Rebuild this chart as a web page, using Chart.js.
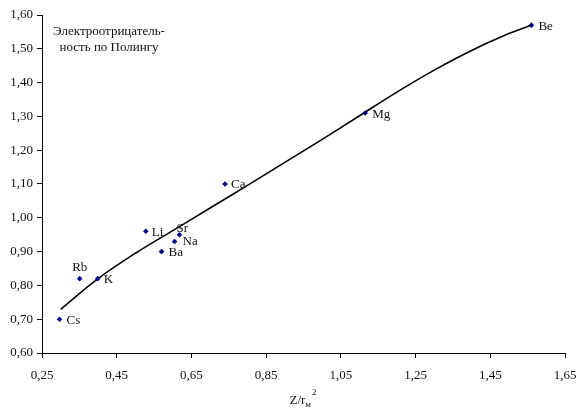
<!DOCTYPE html>
<html>
<head>
<meta charset="utf-8">
<script src="https://cdn.jsdelivr.net/npm/chart.js@4/dist/chart.umd.min.js"></script>
<style>
  html, body { margin: 0; padding: 0; background: #fff; }
  #wrap { width: 577px; height: 412px; position: relative; }
</style>
</head>
<body>
<div id="wrap"><canvas id="c" width="577" height="412"></canvas></div>
<script>
// Elements: Z/r_M^2 against Pauling electronegativity
const elements = ['Be', 'Mg', 'Ca', 'Li', 'Sr', 'Na', 'Ba', 'Rb', 'K', 'Cs'];
const zOverR2 = [1.56, 1.115, 0.74, 0.528, 0.618, 0.605, 0.57, 0.351, 0.399, 0.297];
const pauling = [1.57, 1.31, 1.10, 0.96, 0.95, 0.93, 0.90, 0.82, 0.82, 0.70];

// Trend curve
const trendX = [0.30, 0.40, 0.50, 0.60, 0.70, 0.80, 0.90, 1.00, 1.10, 1.20, 1.30, 1.40, 1.50, 1.56];
const trendY = [0.729, 0.820, 0.895, 0.962, 1.029, 1.096, 1.164, 1.232, 1.302, 1.372, 1.437, 1.495, 1.545, 1.570];

// Axis ticks
const xTicks = [0.25, 0.45, 0.65, 0.85, 1.05, 1.25, 1.45, 1.65];
const yTicks = [0.60, 0.70, 0.80, 0.90, 1.00, 1.10, 1.20, 1.30, 1.40, 1.50, 1.60];

const titleLines = ['Электроотрицатель-', 'ность по Полингу'];

// Label placement around each marker (pixel offsets, alignment)
const labelPlacement = {
  Be: { dx: 7, dy: 1, align: 'left' },
  Mg: { dx: 7, dy: 2, align: 'left' },
  Ca: { dx: 6, dy: 1, align: 'left' },
  Li: { dx: 6, dy: 1, align: 'left' },
  Sr: { dx: -3, dy: -6, align: 'left' },
  Na: { dx: 8, dy: 0, align: 'left' },
  Ba: { dx: 7, dy: 1, align: 'left' },
  Rb: { dx: 0, dy: -11, align: 'center' },
  K:  { dx: 6, dy: 1, align: 'left' },
  Cs: { dx: 7, dy: 1, align: 'left' }
};

const SERIF = '"Liberation Serif", "Times New Roman", serif';
const fmt = v => v.toFixed(2).replace('.', ',');

const annotate = {
  id: 'annotate',
  afterDatasetsDraw(chart) {
    const { ctx, scales: { x, y }, chartArea } = chart;
    ctx.save();
    ctx.fillStyle = '#111';
    ctx.font = '13px ' + SERIF;
    ctx.textBaseline = 'middle';
    elements.forEach((name, i) => {
      const p = labelPlacement[name];
      ctx.textAlign = p.align;
      ctx.fillText(name, x.getPixelForValue(zOverR2[i]) + p.dx, y.getPixelForValue(pauling[i]) + p.dy);
    });

    // Axis caption inside the plot
    ctx.textAlign = 'center';
    ctx.fillText(titleLines[0], 109, 32);
    ctx.fillText(titleLines[1], 109, 48);

    // X axis title: Z/r_м ^2
    const cx = (chartArea.left + chartArea.right) / 2;
    const base = 404;
    ctx.textBaseline = 'alphabetic';
    ctx.textAlign = 'left';
    ctx.font = '13px ' + SERIF;
    const main = 'Z/r';
    const wMain = ctx.measureText(main).width;
    ctx.font = '9px ' + SERIF;
    const wSub = ctx.measureText('м').width;
    const wSup = ctx.measureText('2').width;
    let sx = cx - (wMain + wSub + wSup + 2) / 2;
    ctx.font = '13px ' + SERIF;
    ctx.fillText(main, sx, base);
    sx += wMain;
    ctx.font = '9px ' + SERIF;
    ctx.fillText('м', sx, base + 3);
    ctx.fillText('2', sx + wSub + 1, base - 9);
    ctx.restore();
  }
};

const axisCommon = {
  type: 'linear',
  grid: { display: true, drawOnChartArea: false, drawTicks: true, tickLength: 5, color: '#000', lineWidth: 1 },
  border: { display: true, color: '#000', width: 1 },
  ticks: { color: '#111', font: { family: SERIF, size: 13 }, padding: 4, autoSkip: false, maxRotation: 0 }
};

new Chart(document.getElementById('c'), {
  type: 'scatter',
  data: {
    datasets: [
      {
        label: 'trend',
        data: trendX.map((v, i) => ({ x: v, y: trendY[i] })),
        showLine: true,
        borderColor: '#000',
        borderWidth: 1.6,
        pointRadius: 0,
        tension: 0.4,
        order: 2
      },
      {
        label: 'elements',
        data: zOverR2.map((v, i) => ({ x: v, y: pauling[i] })),
        pointStyle: 'rectRot',
        pointRadius: 2.8,
        backgroundColor: '#000080',
        borderColor: '#000080',
        borderWidth: 0,
        order: 1
      }
    ]
  },
  options: {
    responsive: false,
    animation: false,
    devicePixelRatio: 1,
    layout: { padding: { top: 15, right: 0, left: 0, bottom: 0 } },
    plugins: { legend: { display: false }, tooltip: { enabled: false } },
    scales: {
      x: Object.assign({}, axisCommon, {
        min: 0.25, max: 1.65,
        afterBuildTicks: s => { s.ticks = xTicks.map(v => ({ value: v })); },
        afterFit: s => { s.height = 59; s.paddingRight = 12; },
        ticks: Object.assign({}, axisCommon.ticks, { callback: v => fmt(v), padding: 10 })
      }),
      y: Object.assign({}, axisCommon, {
        min: 0.60, max: 1.60,
        afterBuildTicks: s => { s.ticks = yTicks.map(v => ({ value: v })); },
        afterFit: s => { s.width = 42; },
        ticks: Object.assign({}, axisCommon.ticks, { callback: v => fmt(v) })
      })
    }
  },
  plugins: [annotate]
});
</script>
</body>
</html>
